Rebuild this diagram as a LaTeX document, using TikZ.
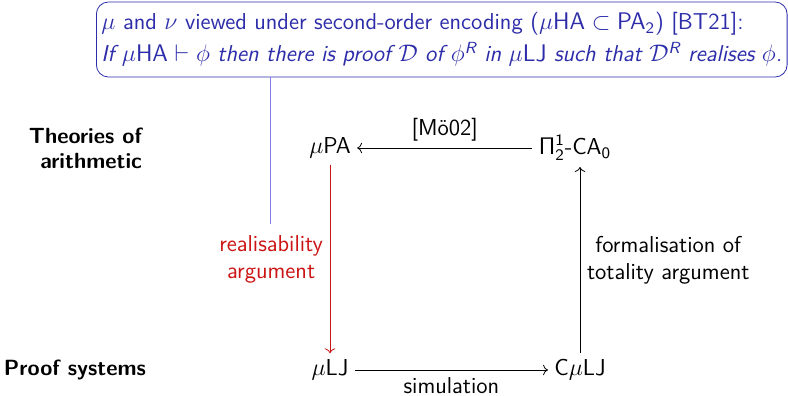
\documentclass[tikz,border=0pt]{standalone}
\definecolor{BoxBlue}{RGB}{45, 45, 170}
\definecolor{LineBlue}{RGB}{128, 128, 230}
\definecolor{ArgRed}{RGB}{204, 20, 20}
\usepackage{amsmath, amssymb}
\usepackage{tikz}
\usetikzlibrary{arrows.meta, positioning, calc}

\begin{document}
\begin{tikzpicture}[x=0.5pt, y=-0.5pt, font=\sffamily\fontsize{11.5}{13.6}\selectfont,
  sysnode/.style={inner sep=3pt},
  hdr/.style={font=\sffamily\bfseries\fontsize{11}{12.5}\selectfont, align=right, anchor=east},
  arrlbl/.style={align=center}]
\useasboundingbox (0,0) rectangle (788,396);
% the four systems
\node[sysnode] (muPA) at (330,148) {$\mu$PA};
\node[sysnode] (pica) at (575,148) {$\mathsf{\Pi}^{\mathsf{1}}_{\mathsf{2}}$-CA$_{\mathsf{0}}$};
\node[sysnode] (muLJ) at (330,370) {$\mu$LJ};
\node[sysnode] (cmuLJ) at (580,370) {C$\mu$LJ};
% row headings
\node[hdr] (thy) at (149,148) {Theories of\\arithmetic};
\node[hdr] (prf) at (153,370) {Proof systems};
% arrows
\draw[->] (pica) -- node[above, arrlbl] (moe) {[M\"o02]} (muPA);
\draw[->] (muLJ) -- node[below, arrlbl] (sim) {simulation} (cmuLJ);
\draw[->, ArgRed] (muPA) -- node[left, arrlbl, text=ArgRed] (real) {realisability\\argument} (muLJ);
\draw[->] (cmuLJ.north) -- node[right, arrlbl] (form) {formalisation of\\totality argument} (cmuLJ.north |- pica.south);
% note box
\node[draw=BoxBlue, text=BoxBlue, rounded corners=6pt, align=left, anchor=west,
  minimum height=37.5pt, inner xsep=2.5pt,
  font=\sffamily\fontsize{11.5}{16}\selectfont] (note) at (96,39.5)
  {$\mu$ and $\nu$ viewed under second-order encoding ($\mu\mathsf{HA} \subset \mathsf{PA}_{\mathsf{2}}$) [BT21]:\\
   \itshape If $\mu\mathsf{HA} \vdash \phi$ then there is proof $\mathcal{D}$ of $\phi^{\text{\sffamily\itshape R}}$ in $\mu\mathsf{LJ}$ such that $\mathcal{D}^{\text{\sffamily\itshape R}}$ realises $\phi$.};
\coordinate (noteend) at (270,224);
\draw[LineBlue] (note.south -| noteend) -- (noteend);
\end{tikzpicture}
\end{document}
